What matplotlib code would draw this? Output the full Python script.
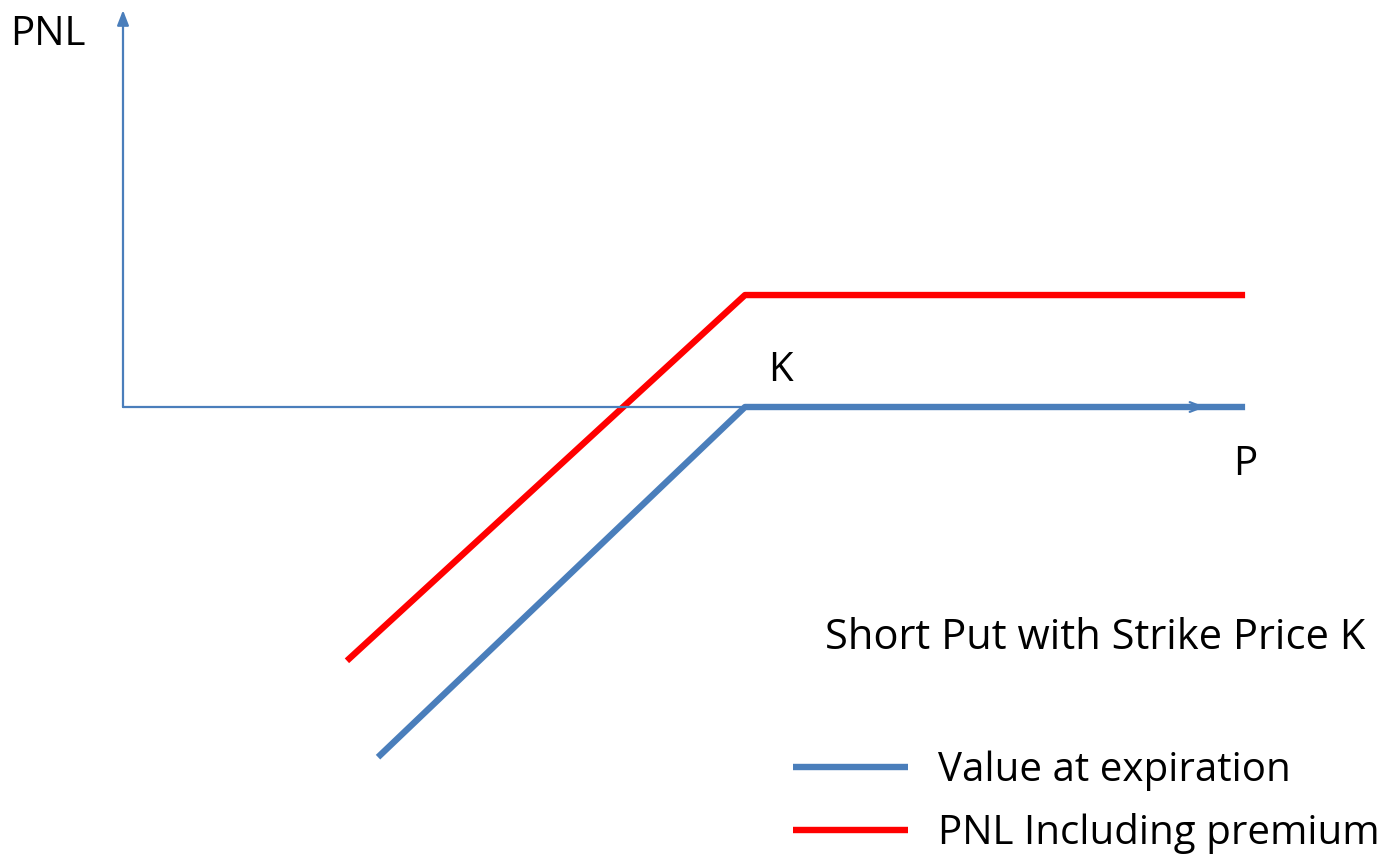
"""
Short put payoff diagram: value at expiration vs PNL including premium.
"""

import matplotlib.pyplot as plt

plt.rcParams['font.family'] = ['Open Sans', 'DejaVu Sans']

# values (price units, strike = 100)
strike = 100
premium = 18
price_value = [41, strike, 180.4]
value_at_expiration = [-56.3, 0, 0]
price_pnl = [36, strike, 180.4]
pnl_incl_premium = [-40.8, premium, premium]
x_axis_end = 174
y_axis_end = 63.8

labels = ["Value at expiration", "PNL Including premium"]
title = "Short Put with Strike Price K"

BLUE = "#4a7ebb"
RED = "#ff0000"

# pixels per unit, used to map the full figure onto the data range
s = 6.22
W, H = 1396, 855
ox, oy = 123, 407

fig = plt.figure(figsize=(W / 100, H / 100), dpi=100)
ax = fig.add_axes([0, 0, 1, 1])
ax.set_xlim(-ox / s, (W - ox) / s)
ax.set_ylim(-(H - oy) / s, oy / s)
ax.axis("off")

# axes arrows
ax.annotate("", xy=(0, y_axis_end), xytext=(0, 0),
            arrowprops=dict(arrowstyle="-|>,head_length=0.9,head_width=0.35",
                            color=BLUE, lw=1.6, shrinkA=0, shrinkB=0))
ax.annotate("", xy=(x_axis_end, 0), xytext=(0, 0),
            arrowprops=dict(arrowstyle="->,head_length=0.9,head_width=0.35",
                            color=BLUE, lw=1.6, shrinkA=0, shrinkB=0))

ax.plot(price_value, value_at_expiration, color=BLUE, lw=4.6,
        solid_capstyle="butt", label=labels[0])
ax.plot(price_pnl, pnl_incl_premium, color=RED, lw=4.6,
        solid_capstyle="butt", label=labels[1])

ax.text(-18.2, 59.8, "PNL", fontsize=29, va="center", ha="left")
ax.text(103.7, 5.9, "K", fontsize=29, va="center", ha="left")
ax.text(178.5, -9.3, "P", fontsize=29, va="center", ha="left")
ax.text(112.9, -37.1, title, fontsize=30, va="center", ha="left")

ax.legend(loc="lower left", bbox_to_anchor=(793 / W, 1 / H),
          frameon=False, fontsize=29, handlelength=2.85, handletextpad=0.75,
          labelspacing=0.55, borderaxespad=0, borderpad=0)

plt.savefig("out.png", dpi=100)
